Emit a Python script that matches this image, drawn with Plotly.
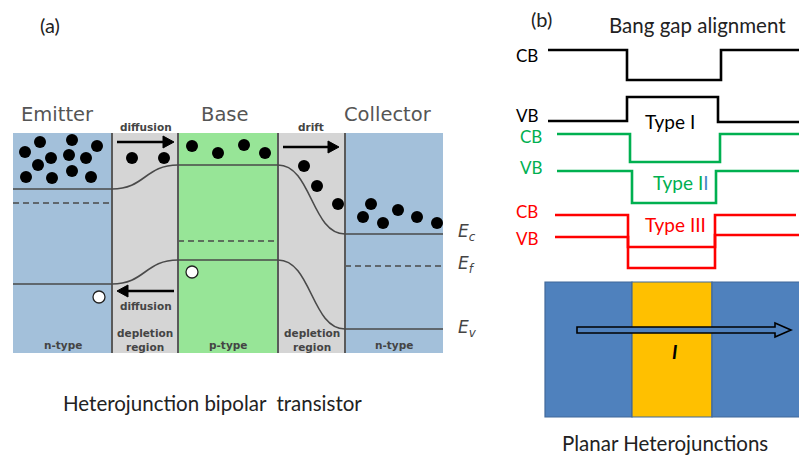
import plotly.graph_objects as go

# ---------------- (a) heterojunction bipolar transistor ----------------
REGION_EDGES = [13, 112, 178, 278, 345, 443]
REGION_NAMES = ["n-type", "depletion<br>region", "p-type", "depletion<br>region", "n-type"]
REGION_FILLS = ["#a3c0da", "#d5d5d5", "#97e597", "#d5d5d5", "#a3c0da"]
BAND_TOP, BAND_BOTTOM = 133, 353

HEADERS = ["Emitter", "Base", "Collector"]
HEADER_X = [57, 224, 388]

# band levels (emitter, base, collector), screen-y units
EC_LEVELS = [189, 165, 234]
EF_LEVELS = [203, 241, 266]
EV_LEVELS = [284, 260, 329]
LEVEL_NAMES = ["E<sub>c</sub>", "E<sub>f</sub>", "E<sub>v</sub>"]
LEVEL_LABEL_Y = [232, 264, 328]

ELECTRON_X = [40, 72, 97, 25, 51, 69, 86, 38, 26, 52, 72, 91,
              132, 164,
              192, 218, 244, 265,
              304, 317, 338,
              371, 363, 383, 398, 417, 437]
ELECTRON_Y = [142, 140, 146, 152, 158, 155, 158, 165, 177, 178, 171, 177,
              158, 158,
              146, 153, 145, 153,
              166, 186, 204,
              204, 217, 223, 210, 217, 223]
HOLE_X = [99, 192]
HOLE_Y = [297, 272]

# carrier flow arrows: (tail x, head x, y, label, label y)
FLOW_ARROWS = [
    (117, 174, 142, "diffusion", 127),
    (283, 339, 147, "drift", 127),
    (174, 117, 291, "diffusion", 306),
]

# ---------------- (b) band gap alignment ----------------
# each step profile: left start, drop x, rise x, right end, left/middle/right levels
ALIGN_PROFILES = [
    ("#000000", 548, 627, 721, 800, 50, 80, 50),
    ("#000000", 548, 627, 718, 800, 121, 97, 122),
    ("#00b050", 557, 630, 720, 800, 134, 162, 134),
    ("#00b050", 557, 632, 716, 800, 171, 203, 171),
    ("#ff0000", 555, 628, 715, 796, 215, 268, 215),
    ("#ff0000", 555, 628, 715, 800, 237, 247, 235),
]
BAND_LABELS = ["CB", "VB", "CB", "VB", "CB", "VB"]
BAND_LABEL_X = [527, 527, 531, 531, 527, 527]
BAND_LABEL_Y = [55, 115, 136, 167, 211, 238]
TYPE_LABELS = ["Type I",
               "Type I<span style='color:#4a86c8'>I</span>",
               "Type III"]
TYPE_X = [670, 681, 675]
TYPE_Y = [121, 182, 224]
TYPE_COLORS = ["#000000", "#00b050", "#ff0000"]

# planar heterojunction stack
PLANAR_X = [545, 632, 712, 800]
PLANAR_FILLS = ["#4f81bd", "#ffc000", "#4f81bd"]
PLANAR_TOP, PLANAR_BOTTOM = 282, 417
CURRENT_ARROW = (577, 791, 330)

CAPTION_FONT = "Lato"

fig = go.Figure()
shapes = []
ann = []

# region blocks and separators
for i in range(5):
    shapes.append(dict(type="rect", xref="x", yref="y",
                       x0=REGION_EDGES[i], x1=REGION_EDGES[i + 1],
                       y0=BAND_TOP, y1=BAND_BOTTOM,
                       fillcolor=REGION_FILLS[i], line_width=0, layer="below"))
    ann.append(dict(x=(REGION_EDGES[i] + REGION_EDGES[i + 1]) / 2,
                    y=345 if "<br>" not in REGION_NAMES[i] else 340,
                    text="<b>" + REGION_NAMES[i] + "</b>", showarrow=False,
                    font=dict(family="DejaVu Sans", size=10.5, color="#444444"),
                    xanchor="center", yanchor="middle"))
for xe in REGION_EDGES[1:-1]:
    shapes.append(dict(type="line", xref="x", yref="y", x0=xe, x1=xe,
                       y0=BAND_TOP, y1=BAND_BOTTOM,
                       line=dict(color="#5a5a5a", width=2)))


def band_path(levels):
    e = REGION_EDGES
    p = f"M {e[0]},{levels[0]} L {e[1]},{levels[0]} "
    m1 = (e[1] + e[2]) / 2
    p += f"C {m1},{levels[0]} {m1},{levels[1]} {e[2]},{levels[1]} "
    p += f"L {e[3]},{levels[1]} "
    m2 = (e[3] + e[4]) / 2
    p += f"C {m2},{levels[1]} {m2},{levels[2]} {e[4]},{levels[2]} "
    p += f"L {e[5]},{levels[2]}"
    return p


for lv in (EC_LEVELS, EV_LEVELS):
    shapes.append(dict(type="path", xref="x", yref="y", path=band_path(lv),
                       line=dict(color="#4a4a4a", width=1.6)))

# Fermi level, dashed, only in the neutral regions
for k, i in enumerate((0, 2, 4)):
    fig.add_trace(go.Scatter(x=[REGION_EDGES[i], REGION_EDGES[i + 1]],
                             y=[EF_LEVELS[k], EF_LEVELS[k]], mode="lines",
                             line=dict(color="#4a4a4a", width=1.6, dash="6px,4px"),
                             hoverinfo="skip", showlegend=False))

fig.add_trace(go.Scatter(x=ELECTRON_X, y=ELECTRON_Y, mode="markers",
                         marker=dict(size=12, color="black"),
                         hoverinfo="skip", showlegend=False))
fig.add_trace(go.Scatter(x=HOLE_X, y=HOLE_Y, mode="markers",
                         marker=dict(size=12, color="white",
                                     line=dict(color="#222", width=1.3)),
                         hoverinfo="skip", showlegend=False))

# flow arrows: shaft line plus a filled triangular head
for x0, x1, y, lab, ly in FLOW_ARROWS:
    d = 1 if x1 > x0 else -1
    hb = x1 - d * 11
    shapes.append(dict(type="line", xref="x", yref="y", x0=x0, x1=hb,
                       y0=y, y1=y, line=dict(color="black", width=2.6)))
    shapes.append(dict(type="path", xref="x", yref="y",
                       path=f"M {hb},{y - 6} L {x1},{y} L {hb},{y + 6} Z",
                       fillcolor="black", line=dict(color="black", width=1)))
    ann.append(dict(x=(x0 + x1) / 2, y=ly, text="<b>" + lab + "</b>",
                    showarrow=False, xanchor="center", yanchor="middle",
                    font=dict(family="DejaVu Sans", size=10.5, color="#444444")))

for name, hx in zip(HEADERS, HEADER_X):
    ann.append(dict(x=hx, y=114, text=name, showarrow=False,
                    xanchor="center", yanchor="middle",
                    font=dict(family="DejaVu Sans", size=19.5, color="#555555")))

for name, ly in zip(LEVEL_NAMES, LEVEL_LABEL_Y):
    ann.append(dict(x=456, y=ly, text="<i>" + name + "</i>", showarrow=False,
                    xanchor="left", yanchor="middle",
                    font=dict(family="DejaVu Sans", size=17, color="#444444")))

ann.append(dict(x=50, y=25, text="(a)", showarrow=False,
                font=dict(family=CAPTION_FONT, size=20, color="#222")))
ann.append(dict(x=212, y=403, text="Heterojunction bipolar  transistor",
                showarrow=False,
                font=dict(family=CAPTION_FONT, size=20.5, color="#222")))

# band alignment step profiles
for col, x0, xa, xb, x1, l, m, r in ALIGN_PROFILES:
    fig.add_trace(go.Scatter(x=[x0, xa, xa, xb, xb, x1],
                             y=[l, l, m, m, r, r], mode="lines",
                             line=dict(color=col, width=2.6),
                             hoverinfo="skip", showlegend=False))
for k in range(6):
    ann.append(dict(x=BAND_LABEL_X[k], y=BAND_LABEL_Y[k], text=BAND_LABELS[k],
                    showarrow=False, xanchor="center", yanchor="middle",
                    font=dict(family=CAPTION_FONT, size=17,
                              color=ALIGN_PROFILES[k][0])))
for k in range(3):
    ann.append(dict(x=TYPE_X[k], y=TYPE_Y[k], text=TYPE_LABELS[k],
                    showarrow=False, xanchor="center", yanchor="middle",
                    font=dict(family=CAPTION_FONT, size=19, color=TYPE_COLORS[k])))
ann.append(dict(x=541, y=19, text="(b)", showarrow=False,
                font=dict(family=CAPTION_FONT, size=20, color="#222")))
ann.append(dict(x=697, y=25, text="Bang gap alignment", showarrow=False,
                font=dict(family=CAPTION_FONT, size=20.5, color="#222")))

# planar heterojunction
for i in range(3):
    shapes.append(dict(type="rect", xref="x", yref="y",
                       x0=PLANAR_X[i], x1=PLANAR_X[i + 1],
                       y0=PLANAR_TOP, y1=PLANAR_BOTTOM,
                       fillcolor=PLANAR_FILLS[i],
                       line=dict(color="#41699a", width=1.2)))
ax0, ax1, ay = CURRENT_ARROW
hb = ax1 - 16
shapes.append(dict(type="path", xref="x", yref="y",
                   path=(f"M {ax0},{ay - 3} L {hb},{ay - 3} L {hb},{ay - 7} "
                         f"L {ax1},{ay} L {hb},{ay + 7} L {hb},{ay + 3} "
                         f"L {ax0},{ay + 3} Z"),
                   fillcolor="#4f81bd", line=dict(color="black", width=1.6)))
ann.append(dict(x=674, y=351, text="<b><i>I</i></b>", showarrow=False,
                font=dict(family=CAPTION_FONT, size=19, color="black")))
ann.append(dict(x=665, y=443, text="Planar Heterojunctions", showarrow=False,
                font=dict(family=CAPTION_FONT, size=20.5, color="#222")))

fig.update_layout(width=799, height=457, margin=dict(l=0, r=0, t=0, b=0),
                  paper_bgcolor="white", plot_bgcolor="white",
                  xaxis=dict(range=[0, 799], visible=False, fixedrange=True),
                  yaxis=dict(range=[457, 0], visible=False, fixedrange=True),
                  shapes=shapes, annotations=ann, showlegend=False)
fig.write_html("out.html")
